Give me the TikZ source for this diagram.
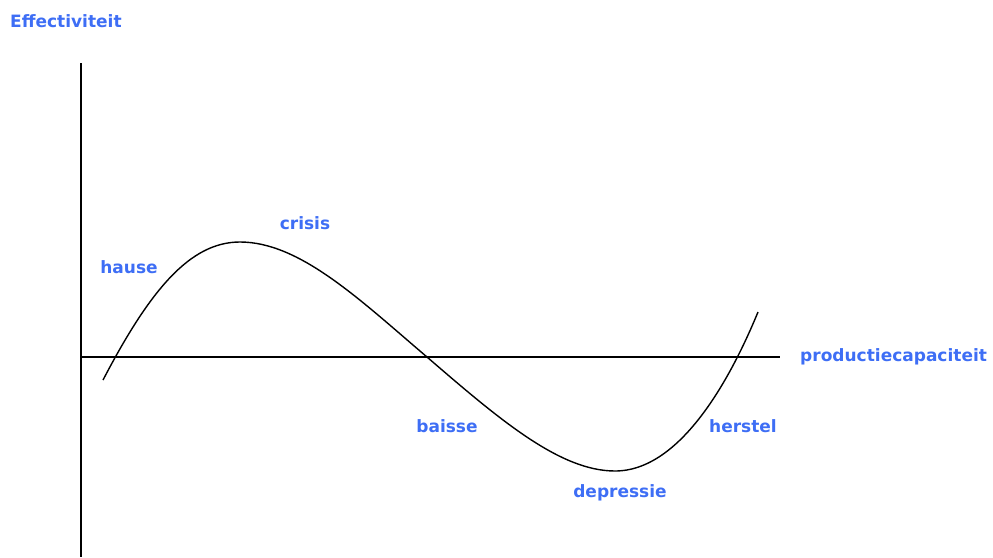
\documentclass[tikz,border=0pt]{standalone}
\usepackage{fontspec}
\setmainfont{DejaVu Sans}
\usepackage{tikz}
\usetikzlibrary{positioning}
\definecolor{PhaseBlue}{RGB}{62, 110, 245}

\begin{document}
\begin{tikzpicture}[x=1pt, y=-1pt, font=\fontsize{17}{20}\selectfont\bfseries,
    phase/.style={text=PhaseBlue, inner sep=0pt}]
    \useasboundingbox (0,0) rectangle (993,557);
    % assen
    \coordinate (origin) at (81,357);
    \coordinate (ytop) at (81,63);
    \coordinate (ybot) at (81,557);
    \coordinate (xend) at (780,357);
    \draw[line width=1.4pt] (ytop) -- (ybot);
    \draw[line width=1.4pt] (origin) -- (xend);
    \node[phase, anchor=west] (xlabel) at (800,357) {productiecapaciteit};
    \node[phase, anchor=west] (ylabel) at (10,21) {Effectiviteit};

    % conjunctuurgolf
    \coordinate (start) at (103,380);
    \coordinate (top) at (240,242);
    \coordinate (mid) at (427,357);
    \coordinate (dal) at (615,471);
    \coordinate (eind) at (758,312);
    \draw[line width=1.4pt] (start) .. controls (150,290) and (190,242) .. (top)
        .. controls (300,242) and (360,300) .. (mid)
        .. controls (500,420) and (560,471) .. (dal)
        .. controls (680,471) and (730,380) .. (eind);

    % fasen
    \node[phase] (hause) at (129,267) {hause};
    \node[phase] (crisis) at (305,223) {crisis};
    \node[phase] (baisse) at (447,426) {baisse};
    \node[phase] (depressie) at (620,493) {depressie};
    \node[phase] (herstel) at (743,426) {herstel};
\end{tikzpicture}
\end{document}
